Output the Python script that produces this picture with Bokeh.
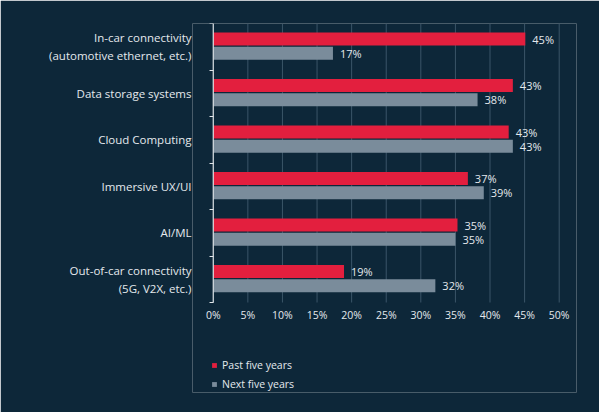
from bokeh.plotting import figure
from bokeh.models import ColumnDataSource, FixedTicker, LinearAxis, Legend, LegendItem, Range1d
from bokeh.core.properties import value
from bokeh.embed import file_html
from bokeh.resources import INLINE

# categories, top to bottom
categories = [
    "In-car connectivity\n(automotive ethernet, etc.)",
    "Data storage systems",
    "Cloud Computing",
    "Immersive UX/UI",
    "AI/ML",
    "Out-of-car connectivity\n(5G, V2X, etc.)",
]
# bar lengths as drawn in the picture (percent)
past_five = [45.1, 43.3, 42.7, 36.8, 35.3, 18.9]
next_five = [17.3, 38.2, 43.3, 39.1, 35.0, 32.1]
# printed labels
past_labels = ["45%", "43%", "43%", "37%", "35%", "19%"]
next_labels = ["17%", "38%", "43%", "39%", "35%", "32%"]
x_ticks = [0, 5, 10, 15, 20, 25, 30, 35, 40, 45, 50]

BG = "#0d2739"
RED = "#e31f3e"
GREY = "#7a8c9b"
TXT = "#e4e9ed"
AXIS = "#dfe4e8"
FONT = "Open Sans"

n = len(categories)
# category i sits in the band [n-1-i, n-i]; centre at n-1-i+0.5
centres = [n - 1 - i + 0.5 for i in range(n)]
bar_h = 0.28

src = ColumnDataSource(dict(
    cat=categories,
    y_past=[c + 0.165 for c in centres],
    y_next=[c - 0.14 for c in centres],
    past=past_five,
    next=next_five,
    past_lab=past_labels,
    next_lab=next_labels,
))

# frame runs down to the bottom (and a little left of 0) so the legend and the
# end tick labels are not clipped; the axes are pinned at x = 0 and y = 0
p = figure(frame_width=384, frame_height=369, output_backend="svg", toolbar_location=None,
           x_range=Range1d(-3, 52.5), y_range=Range1d(n - 369 / 46.5, n),
           background_fill_color=BG, border_fill_color=BG,
           outline_line_color=None, y_axis_location=None, x_axis_location=None,
           min_border_left=192, min_border_right=23,
           min_border_top=23, min_border_bottom=20)

# vertical grid lines, only across the category bands
grid_x = x_ticks[1:]
p.segment(x0=grid_x, y0=[0] * len(grid_x), x1=grid_x, y1=[n] * len(grid_x),
          line_color="#3b5568", line_width=1)

r_past = p.hbar(y="y_past", left=0, right="past", height=bar_h, source=src,
                fill_color=RED, line_color=None)
r_next = p.hbar(y="y_next", left=0, right="next", height=bar_h, source=src,
                fill_color=GREY, line_color=None)

# the bracket line at 0% spanning the category bands
p.segment(x0=[0], y0=[0], x1=[0], y1=[n], line_color=AXIS, line_width=1.2)

p.text(x="past", y="y_past", text="past_lab", source=src, x_offset=7,
       text_font=value(FONT), text_font_size="11px", text_color=TXT,
       text_baseline="middle", text_align="left")
p.text(x="next", y="y_next", text="next_lab", source=src, x_offset=7,
       text_font=value(FONT), text_font_size="11px", text_color=TXT,
       text_baseline="middle", text_align="left")

# x axis pinned to the bottom of the bands
xaxis = LinearAxis(fixed_location=0, ticker=FixedTicker(ticks=x_ticks),
                   major_label_overrides={t: f"{t}%" for t in x_ticks},
                   axis_line_color=None, major_tick_line_color=None,
                   major_tick_out=0, major_tick_in=0,
                   minor_tick_line_color=None, major_label_standoff=5,
                   major_label_text_color=TXT, major_label_text_font=FONT,
                   major_label_text_font_size="10.5px")
p.add_layout(xaxis, "below")

p.xgrid.grid_line_color = None
p.ygrid.grid_line_color = None

# inner left axis: bracket ticks at the category boundaries, pinned at x = 0
bracket = LinearAxis(fixed_location=0, ticker=FixedTicker(ticks=list(range(n + 1))),
                     bounds=(0, n), axis_line_color=None,
                     major_tick_line_color=AXIS, major_tick_line_width=1.2,
                     major_tick_in=0, major_tick_out=4, minor_tick_line_color=None,
                     major_label_text_font_size="0px", major_label_standoff=0)
p.add_layout(bracket, "left")

# outer left axis: category names at the band centres
names = LinearAxis(ticker=FixedTicker(ticks=centres),
                   major_label_overrides={c: cat for c, cat in zip(centres, categories)},
                   axis_line_color=None, major_tick_line_color=None,
                   major_tick_out=0, major_tick_in=0,
                   minor_tick_line_color=None, major_label_standoff=1,
                   major_label_text_color=TXT, major_label_text_font=FONT,
                   major_label_text_font_size="11.5px")
p.add_layout(names, "left")

legend = Legend(items=[LegendItem(label="Past five years", renderers=[r_past]),
                       LegendItem(label="Next five years", renderers=[r_next])],
                location=(19, 1), orientation="vertical",
                background_fill_alpha=0, border_line_color=None,
                padding=0, margin=0, spacing=5,
                glyph_width=6, glyph_height=6, label_standoff=5,
                label_text_color=TXT, label_text_font=FONT,
                label_text_font_size="10.5px", label_height=12)
p.add_layout(legend, "center")

html = file_html(p, INLINE)
html = html.replace("<body>", '<body style="background:%s">' % BG, 1)
open("out.html", "w").write(html)
